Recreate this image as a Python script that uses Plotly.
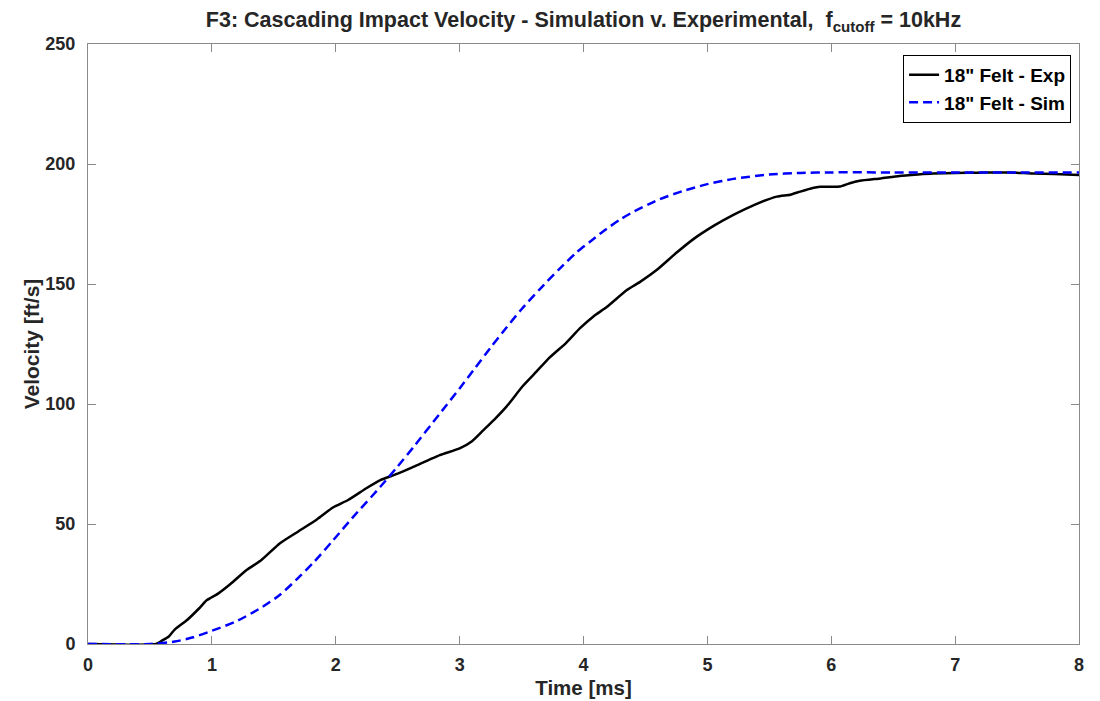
import plotly.graph_objects as go

# Experimental (black solid)
exp_t = [0, 0.55, 0.6, 0.65, 0.7, 0.8, 0.9, 0.96, 1.05, 1.15, 1.28, 1.4, 1.55, 1.7, 1.85, 1.98,
         2.1, 2.25, 2.36, 2.5, 2.63, 2.84, 3.0, 3.1, 3.19, 3.28, 3.38, 3.51, 3.62, 3.73, 3.86, 3.97,
         4.08, 4.19, 4.35, 4.46, 4.59, 4.75, 4.89, 5.05, 5.21, 5.38, 5.56, 5.67, 5.75, 5.85, 5.91,
         6.07, 6.15, 6.23, 6.4, 6.55, 6.7, 6.82, 7.0, 7.2, 7.44, 7.63, 7.8, 8.0]
exp_v = [0, 0, 1.5, 3, 6, 10, 15, 18.3, 21, 25, 30.8, 35, 42, 47, 52, 57,
         60, 65, 68.3, 71, 73.9, 78.7, 81.5, 84.5, 89, 93.5, 99, 107.5, 113.5, 119.5, 125.5, 131.5,
         136.5, 140.5, 147.5, 151, 155.8, 163, 168.8, 174.2, 178.8, 183, 186.4, 187.2, 188.5, 190, 190.5,
         190.6, 192, 193, 194, 195, 195.6, 196, 196.2, 196.4, 196.5, 196, 195.8, 195.4]

# Simulation (blue dashed)
sim_t = [0, 0.5, 0.7, 0.85, 1.0, 1.2, 1.41, 1.55, 1.68, 1.83, 1.98, 2.15, 2.36, 2.5, 2.63,
         2.84, 3.0, 3.11, 3.25, 3.38, 3.5, 3.65, 3.8, 3.94, 4.05, 4.16, 4.3, 4.4, 4.6, 4.8,
         5.0, 5.21, 5.5, 5.75, 6.0, 6.5, 7.0, 7.5, 8.0]
sim_v = [0, 0, 1, 2.8, 5.5, 9.5, 15.5, 20.5, 26.7, 34.5, 43.3, 53.5, 65.5, 74, 82.2,
         96, 106.5, 114, 123.5, 132, 139.5, 148, 156, 163, 167.5, 172, 177, 180, 185, 188.7,
         191.6, 193.8, 195.6, 196.3, 196.5, 196.5, 196.5, 196.5, 196.5]

x_ticks = [0, 1, 2, 3, 4, 5, 6, 7, 8]
y_ticks = [0, 50, 100, 150, 200, 250]

FONT = "Liberation Sans, Arial, sans-serif"
AXC = "#8a8a8a"
TXC = "#262626"

fig = go.Figure()
fig.add_trace(go.Scatter(x=exp_t, y=exp_v, mode="lines", name='18" Felt - Exp',
                         line=dict(color="black", width=2.5, shape="spline", smoothing=0.5)))
fig.add_trace(go.Scatter(x=sim_t, y=sim_v, mode="lines", name='18" Felt - Sim',
                         line=dict(color="#0000ff", width=2.5, dash="9px,5px", shape="spline",
                                   smoothing=0.6)))

axis_common = dict(showgrid=False, zeroline=False, showline=True, linecolor=AXC, linewidth=1,
                   mirror="ticks", ticks="inside", ticklen=8, tickcolor=AXC, tickwidth=1,
                   automargin=False,
                   tickfont=dict(family=FONT, size=18, color=TXC, weight="bold"))

# page body has an 8px margin, so the figure is placed at (8, 8) in the window
fig.update_layout(
    width=1092, height=693,
    margin=dict(l=80, r=21, t=36, b=57),
    paper_bgcolor="white", plot_bgcolor="white",
    font=dict(family=FONT, color=TXC, weight="bold"),
    title=dict(text="F3: Cascading Impact Velocity - Simulation v. Experimental,  f<sub>cutoff</sub> = 10kHz",
               x=0.5, xref="paper", xanchor="center", y=0.983, yref="container", yanchor="middle",
               automargin=False,
               font=dict(family=FONT, size=21.5, color=TXC, weight="bold")),
    xaxis=dict(range=[0, 8], tickvals=x_ticks, ticklabelstandoff=4,
               title=dict(text="Time [ms]", standoff=7,
                          font=dict(family=FONT, size=20.5, color=TXC, weight="bold")), **axis_common),
    yaxis=dict(range=[0, 250], tickvals=y_ticks, ticklabelstandoff=8,
               title=dict(text="Velocity [ft/s]", standoff=0,
                          font=dict(family=FONT, size=21, color=TXC, weight="bold")), **axis_common),
    legend=dict(x=0.992, y=0.982, xanchor="right", yanchor="top", bgcolor="white",
                bordercolor="black", borderwidth=1,
                font=dict(family=FONT, size=19, color="black", weight="bold"),
                tracegroupgap=0, itemwidth=30),
    showlegend=True,
)

fig.write_html("out.html")
